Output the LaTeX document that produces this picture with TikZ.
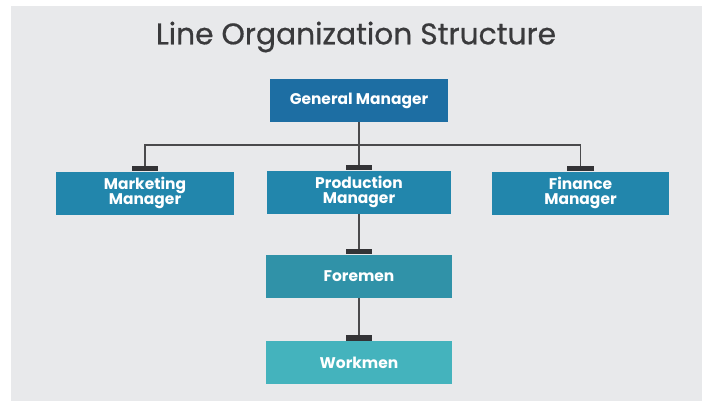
\documentclass[tikz,border=0pt]{standalone}
\usepackage{fontspec}
\setmainfont{Poppins}
\newfontfamily\titlefont{Poppins}[FakeBold=0.6]
\definecolor{bgc}{HTML}{E8E9EB}
\definecolor{titlec}{HTML}{3A3A3C}
\definecolor{gmc}{HTML}{1D6EA3}
\definecolor{midc}{HTML}{2286AC}
\definecolor{forec}{HTML}{3092A8}
\definecolor{workc}{HTML}{44B3BD}
\definecolor{linec}{HTML}{4A4A4C}
\definecolor{capc}{HTML}{333336}
\begin{document}
\begin{tikzpicture}[x=0.75pt,y=-0.75pt,
  box/.style={rectangle, inner sep=0pt, text=white, align=center,
    font=\fontsize{11.6}{11.8}\selectfont\bfseries, minimum height=32.25pt},
  conn/.style={draw=linec, line width=1.1pt},
  capbar/.style={fill=capc}]
\useasboundingbox (0,0) rectangle (702,403);
\fill[bgc] (11,6) rectangle (702,401);
\node[font=\titlefont\fontsize{22.3}{24}\selectfont, text=titlec] (title) at (356,37) {Line Organization Structure};
\node[box, fill=gmc, minimum width=133.5pt] (gm) at (359,100.5) {General Manager};
\node[box, fill=midc, minimum width=133.5pt] (mm) at (145,193) {Marketing\\Manager};
\node[box, fill=midc, minimum width=138pt] (pm) at (359,192) {Production\\Manager};
\node[box, fill=midc, minimum width=132.75pt] (fm) at (580.5,193) {Finance\\Manager};
\node[box, fill=forec, minimum width=139pt] (fo) at (359,276) {Foremen};
\node[box, fill=workc, minimum width=139pt] (wo) at (359,362.5) {Workmen};
\coordinate (bus) at (359,145);
\draw[conn] (gm.south) -- (pm.north);
\draw[conn] (mm.north) -- (mm.north |- bus) -- (fm.north |- bus) -- (fm.north);
\draw[conn] (pm.south) -- (fo.north);
\draw[conn] (fo.south) -- (wo.north);
\foreach \n in {mm,pm,fm,fo,wo}{
  \fill[capbar] ([xshift=-10.1pt]\n.north) rectangle ([xshift=10.1pt,yshift=4.3pt]\n.north);
}
\end{tikzpicture}
\end{document}
